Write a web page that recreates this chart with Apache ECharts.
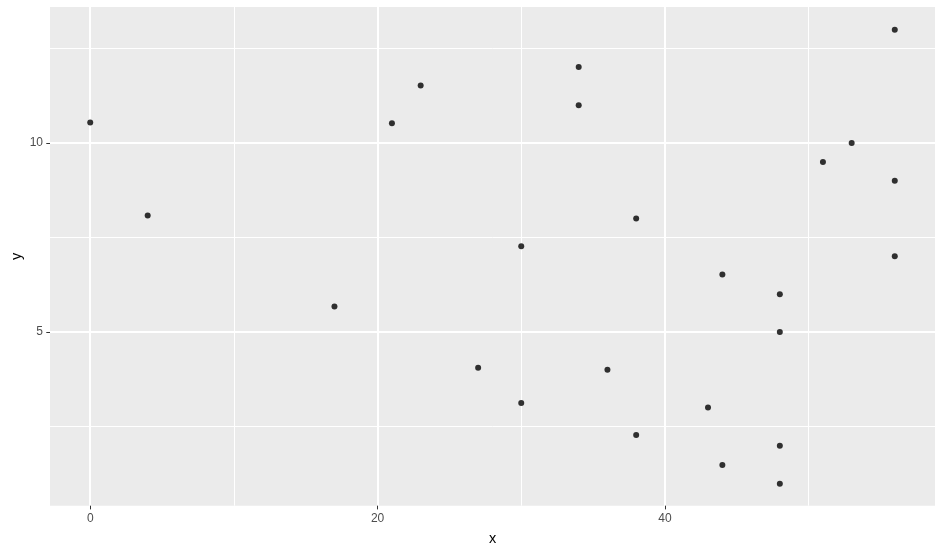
<!DOCTYPE html>
<html>
<head>
<meta charset="utf-8">
<script src="https://cdn.jsdelivr.net/npm/echarts@6/dist/echarts.min.js"></script>
<style>
html,body{margin:0;padding:0;background:#fff;}
#chart{width:943px;height:550px;}
</style>
</head>
<body>
<div id="chart"></div>
<script>
var xValues = [0, 4, 17, 21, 23, 27, 30, 30, 34, 34, 36, 38, 38, 43, 44, 44, 48, 48, 48, 48, 51, 53, 56, 56, 56];
var yValues = [10.54, 8.08, 5.67, 10.52, 11.52, 4.05, 7.27, 3.12, 12.01, 11.0, 4.0, 8.0, 2.27, 3.0, 6.52, 1.48, 6.0, 5.0, 1.99, 0.98, 9.5, 10.0, 13.0, 9.0, 7.0];
var xMajorTicks = [0, 20, 40];
var xMinorTicks = [10, 30, 50];
var yMajorTicks = [5, 10];
var yMinorTicks = [2.5, 7.5, 12.5];
var xRange = [-2.8, 58.8];
var yRange = [0.4, 13.6];

var points = xValues.map(function (x, i) { return [x, yValues[i]]; });

var font = 'Liberation Sans, Arial, sans-serif';
var chart = echarts.init(document.getElementById('chart'), null, {renderer: 'canvas'});

function majorAxis(name, ticks, range, nameGap) {
  return {
    type: 'value', name: name, nameLocation: 'middle', nameGap: nameGap, nameMoveOverlap: false,
    nameTextStyle: {color: '#000', fontSize: 14.5, fontFamily: font},
    min: range[0], max: range[1],
    axisLine: {show: false, onZero: false},
    axisTick: {show: true, length: 3.7, customValues: ticks, lineStyle: {color: '#333', width: 1}},
    axisLabel: {show: true, customValues: ticks, margin: 7, color: '#4D4D4D', fontSize: 12, fontFamily: font},
    splitLine: {show: true, lineStyle: {color: '#fff', width: 2}},
    minorTick: {show: false}, minorSplitLine: {show: false}
  };
}
function minorAxis(ticks, range) {
  return {
    type: 'value', min: range[0], max: range[1],
    axisLine: {show: false, onZero: false},
    axisTick: {show: false, customValues: ticks},
    axisLabel: {show: false, customValues: ticks},
    splitLine: {show: true, lineStyle: {color: '#fff', width: 1}}
  };
}

var xMain = majorAxis('x', xMajorTicks, xRange, 26);
xMain.position = 'bottom';
var xMinor = minorAxis(xMinorTicks, xRange);
xMinor.position = 'bottom';
var yMain = majorAxis('y', yMajorTicks, yRange, 26);
yMain.position = 'left';
var yMinor = minorAxis(yMinorTicks, yRange);
yMinor.position = 'left';

chart.setOption({
  animation: false,
  backgroundColor: '#fff',
  grid: {left: 50, right: 8, top: 7, bottom: 44.3, show: true, backgroundColor: '#EBEBEB', borderWidth: 0, containLabel: false, outerBoundsMode: 'none'},
  xAxis: [xMinor, xMain],
  yAxis: [yMinor, yMain],
  series: [{
    type: 'scatter', xAxisIndex: 1, yAxisIndex: 1,
    data: points, symbol: 'circle', symbolSize: 6,
    itemStyle: {color: '#000'}, silent: true
  }]
});
</script>
</body>
</html>
